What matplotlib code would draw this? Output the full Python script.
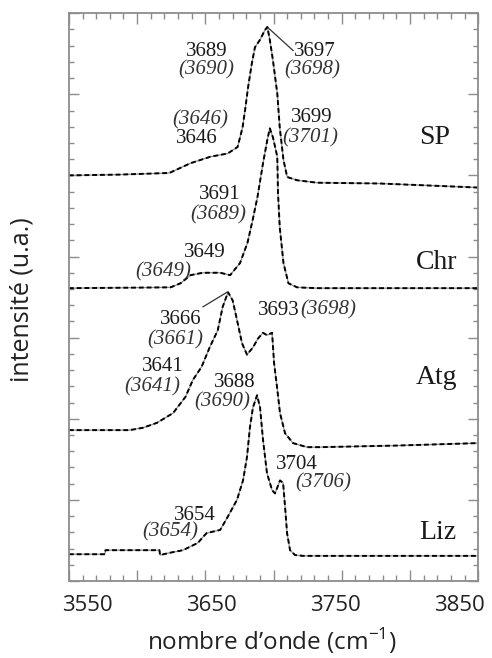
"""
Spectres Raman (région OH) de quatre serpentines, décalés verticalement
"""
import numpy as np
import matplotlib
matplotlib.use('Agg')
import matplotlib.pyplot as plt
from matplotlib.ticker import FixedLocator, NullFormatter

# Données (nombre d'onde en cm-1, intensité en u.a. avec décalage)
sp_x = [3535, 3576, 3616, 3633, 3649, 3663, 3671, 3675, 3677, 3679.5, 3682.5, 3685,
        3689, 3693, 3695, 3697, 3699.5, 3703, 3705, 3708, 3711, 3719, 3735, 3786,
        3834, 3865]
sp_y = [5.00, 5.01, 5.03, 5.15, 5.23, 5.27, 5.35, 5.59, 5.80, 6.09, 6.38, 6.58,
        6.67, 6.79, 6.83, 6.67, 6.42, 6.01, 5.59, 5.19, 4.98, 4.94, 4.91, 4.90,
        4.87, 4.85]

chr_x = [3535, 3617, 3625, 3633, 3643, 3657, 3665, 3673, 3679, 3683, 3687, 3691.5,
         3695, 3697, 3699.5, 3703, 3703.6, 3705, 3708, 3712, 3719, 3735, 3865]
chr_y = [3.61, 3.62, 3.67, 3.77, 3.80, 3.80, 3.77, 3.92, 4.17, 4.44, 4.73, 5.15,
         5.44, 5.58, 5.47, 5.23, 4.78, 4.36, 3.92, 3.67, 3.62, 3.61, 3.61]

atg_x = [3535, 3584, 3595, 3606, 3619, 3629, 3635, 3642, 3648.5, 3655, 3659, 3663.3,
         3667, 3670.5, 3674.6, 3678.6, 3683.4, 3687.5, 3691.5, 3694.7, 3698.8, 3699.6,
         3700.4, 3702.8, 3705.2, 3709.3, 3715.7, 3727, 3737.5, 3800, 3865]
atg_y = [1.86, 1.86, 1.89, 1.95, 2.07, 2.27, 2.48, 2.64, 2.88, 3.09, 3.38, 3.56,
         3.46, 3.22, 2.93, 2.79, 2.88, 2.99, 3.06, 3.03, 3.06, 2.88,
         2.69, 2.39, 2.07, 1.82, 1.70, 1.65, 1.65, 1.67, 1.70]

liz_x = [3535, 3564, 3564.5, 3608, 3608.5, 3617, 3627, 3639, 3643, 3646, 3657, 3663,
         3670.5, 3675.4, 3678.6, 3681, 3683.4, 3686.7, 3689.1, 3691.5, 3694.7, 3698.8,
         3701.2, 3705.2, 3707.7, 3709.3, 3710.9, 3713.3, 3717.3, 3723.8, 3865]
liz_y = [0.33, 0.33, 0.38, 0.38, 0.32, 0.35, 0.38, 0.47, 0.54, 0.59, 0.63, 0.79,
         1.00, 1.24, 1.53, 1.90, 2.14, 2.29, 2.14, 1.74, 1.33, 1.12,
         1.08, 1.24, 1.21, 0.91, 0.59, 0.38, 0.32, 0.31, 0.31]

noms = ['SP', 'Chr', 'Atg', 'Liz']
tick_labels = [3550, 3650, 3750, 3850]

# Pics annotés : (texte, texte italique) ; positions plus bas
pics_droits = ['3689', '3697', '3646', '3699', '3691', '3649', '3666', '3693',
               '3641', '3688', '3704', '3654']
pics_ital = ['(3690)', '(3698)', '(3646)', '(3701)', '(3689)', '(3649)', '(3661)',
             '(3698)', '(3641)', '(3690)', '(3706)', '(3654)']

plt.rcParams['mathtext.fontset'] = 'custom'
plt.rcParams['mathtext.rm'] = 'Open Sans'

fig = plt.figure(figsize=(4.92, 6.58), dpi=100)
ax = fig.add_axes([0.140, 0.117, 0.832, 0.863])

# Courbes : trait gris fin + tirets noirs
for xs, ys in [(sp_x, sp_y), (chr_x, chr_y), (atg_x, atg_y), (liz_x, liz_y)]:
    ax.plot(xs, ys, color='0.55', lw=0.9)
    ax.plot(xs, ys, color='k', lw=1.4, dashes=(2.5, 1.5))

ax.set_xlim(3535, 3865)
ax.set_ylim(0, 7)

# Graduations (non étiquetées) sur les quatre côtés
ax.xaxis.set_major_locator(FixedLocator(np.arange(3535, 3866, 55)))
ax.xaxis.set_minor_locator(FixedLocator(np.arange(3535, 3866, 11)))
ax.yaxis.set_major_locator(FixedLocator(np.arange(0, 7.01, 1)))
ax.yaxis.set_minor_locator(FixedLocator(np.arange(0, 7.01, 0.2)))
ax.xaxis.set_major_formatter(NullFormatter())
ax.yaxis.set_major_formatter(NullFormatter())
gris = '#8c8c8c'
ax.tick_params(which='both', direction='in', top=True, right=True,
               color=gris, width=1.0)
ax.tick_params(axis='x', which='major', length=8)
ax.tick_params(axis='x', which='minor', length=4.5)
ax.tick_params(axis='y', which='major', length=7)
ax.tick_params(axis='y', which='minor', length=3.5)
for sp in ax.spines.values():
    sp.set_color(gris)
    sp.set_linewidth(1.3)

# Étiquettes de l'axe x (indépendantes des graduations)
sec = ax.secondary_xaxis('bottom')
sec.set_xticks(tick_labels)
sec.tick_params(length=0, pad=10, labelsize=16)
sec.spines['bottom'].set_visible(False)
for lab in sec.get_xticklabels():
    lab.set_fontfamily('Open Sans')
    lab.set_color('#222222')

fig.text(0.553, 0.026, 'nombre d\u2019onde (cm$^{\\mathregular{-1}}$)',
         family='Open Sans', fontsize=17.5, ha='center', va='center', color='#222222')
fig.text(0.045, 0.545, 'intensité (u.a.)', family='Open Sans', fontsize=18,
         rotation=90, ha='center', va='center', color='#222222')

# Annotations des pics
pos_droits = [(3646.3, 6.53), (3733.5, 6.53), (3638.3, 5.46), (3731.1, 5.71),
              (3656.8, 4.77), (3644.7, 4.05), (3625.4, 3.22), (3721.4, 3.34),
              (3610.8, 2.64), (3668.9, 2.45), (3719.0, 1.44), (3636.7, 0.81)]
pos_ital = [(3645.5, 6.30), (3731.1, 6.30), (3640.7, 5.69), (3729.4, 5.46),
            (3655.2, 4.51), (3610.8, 3.81), (3620.5, 2.97), (3721.4, 3.34),
            (3602.0, 2.39), (3658.4, 2.21), (3739.9, 1.21), (3616.5, 0.60)]

serif = 'Liberation Serif'
for t, (x, y) in zip(pics_droits, pos_droits):
    ha = 'right' if t == '3693' else 'center'
    ax.text(x, y, t, family=serif, fontsize=15, ha=ha, va='center', color='#1a1a1a')
for t, (x, y), td in zip(pics_ital, pos_ital, pics_droits):
    ha = 'left' if td == '3693' else 'center'
    ax.text(x, y, t, family=serif, style='italic', fontsize=15, ha=ha,
            va='center', color='#333333')

# Traits de rappel
ax.plot([3695.6, 3715.7], [6.82, 6.54], color='#333333', lw=0.9)
ax.plot([3643.1, 3662.5], [3.38, 3.56], color='#333333', lw=0.9)

# Noms des échantillons
pos_noms = [(3829.5, 5.47), (3831.1, 3.93), (3831.1, 2.51), (3832.7, 0.60)]
for n, (x, y) in zip(noms, pos_noms):
    ax.text(x, y, n, family=serif, fontsize=20, ha='center', va='center',
            color='#1a1a1a')

fig.savefig('out.png', dpi=100)
